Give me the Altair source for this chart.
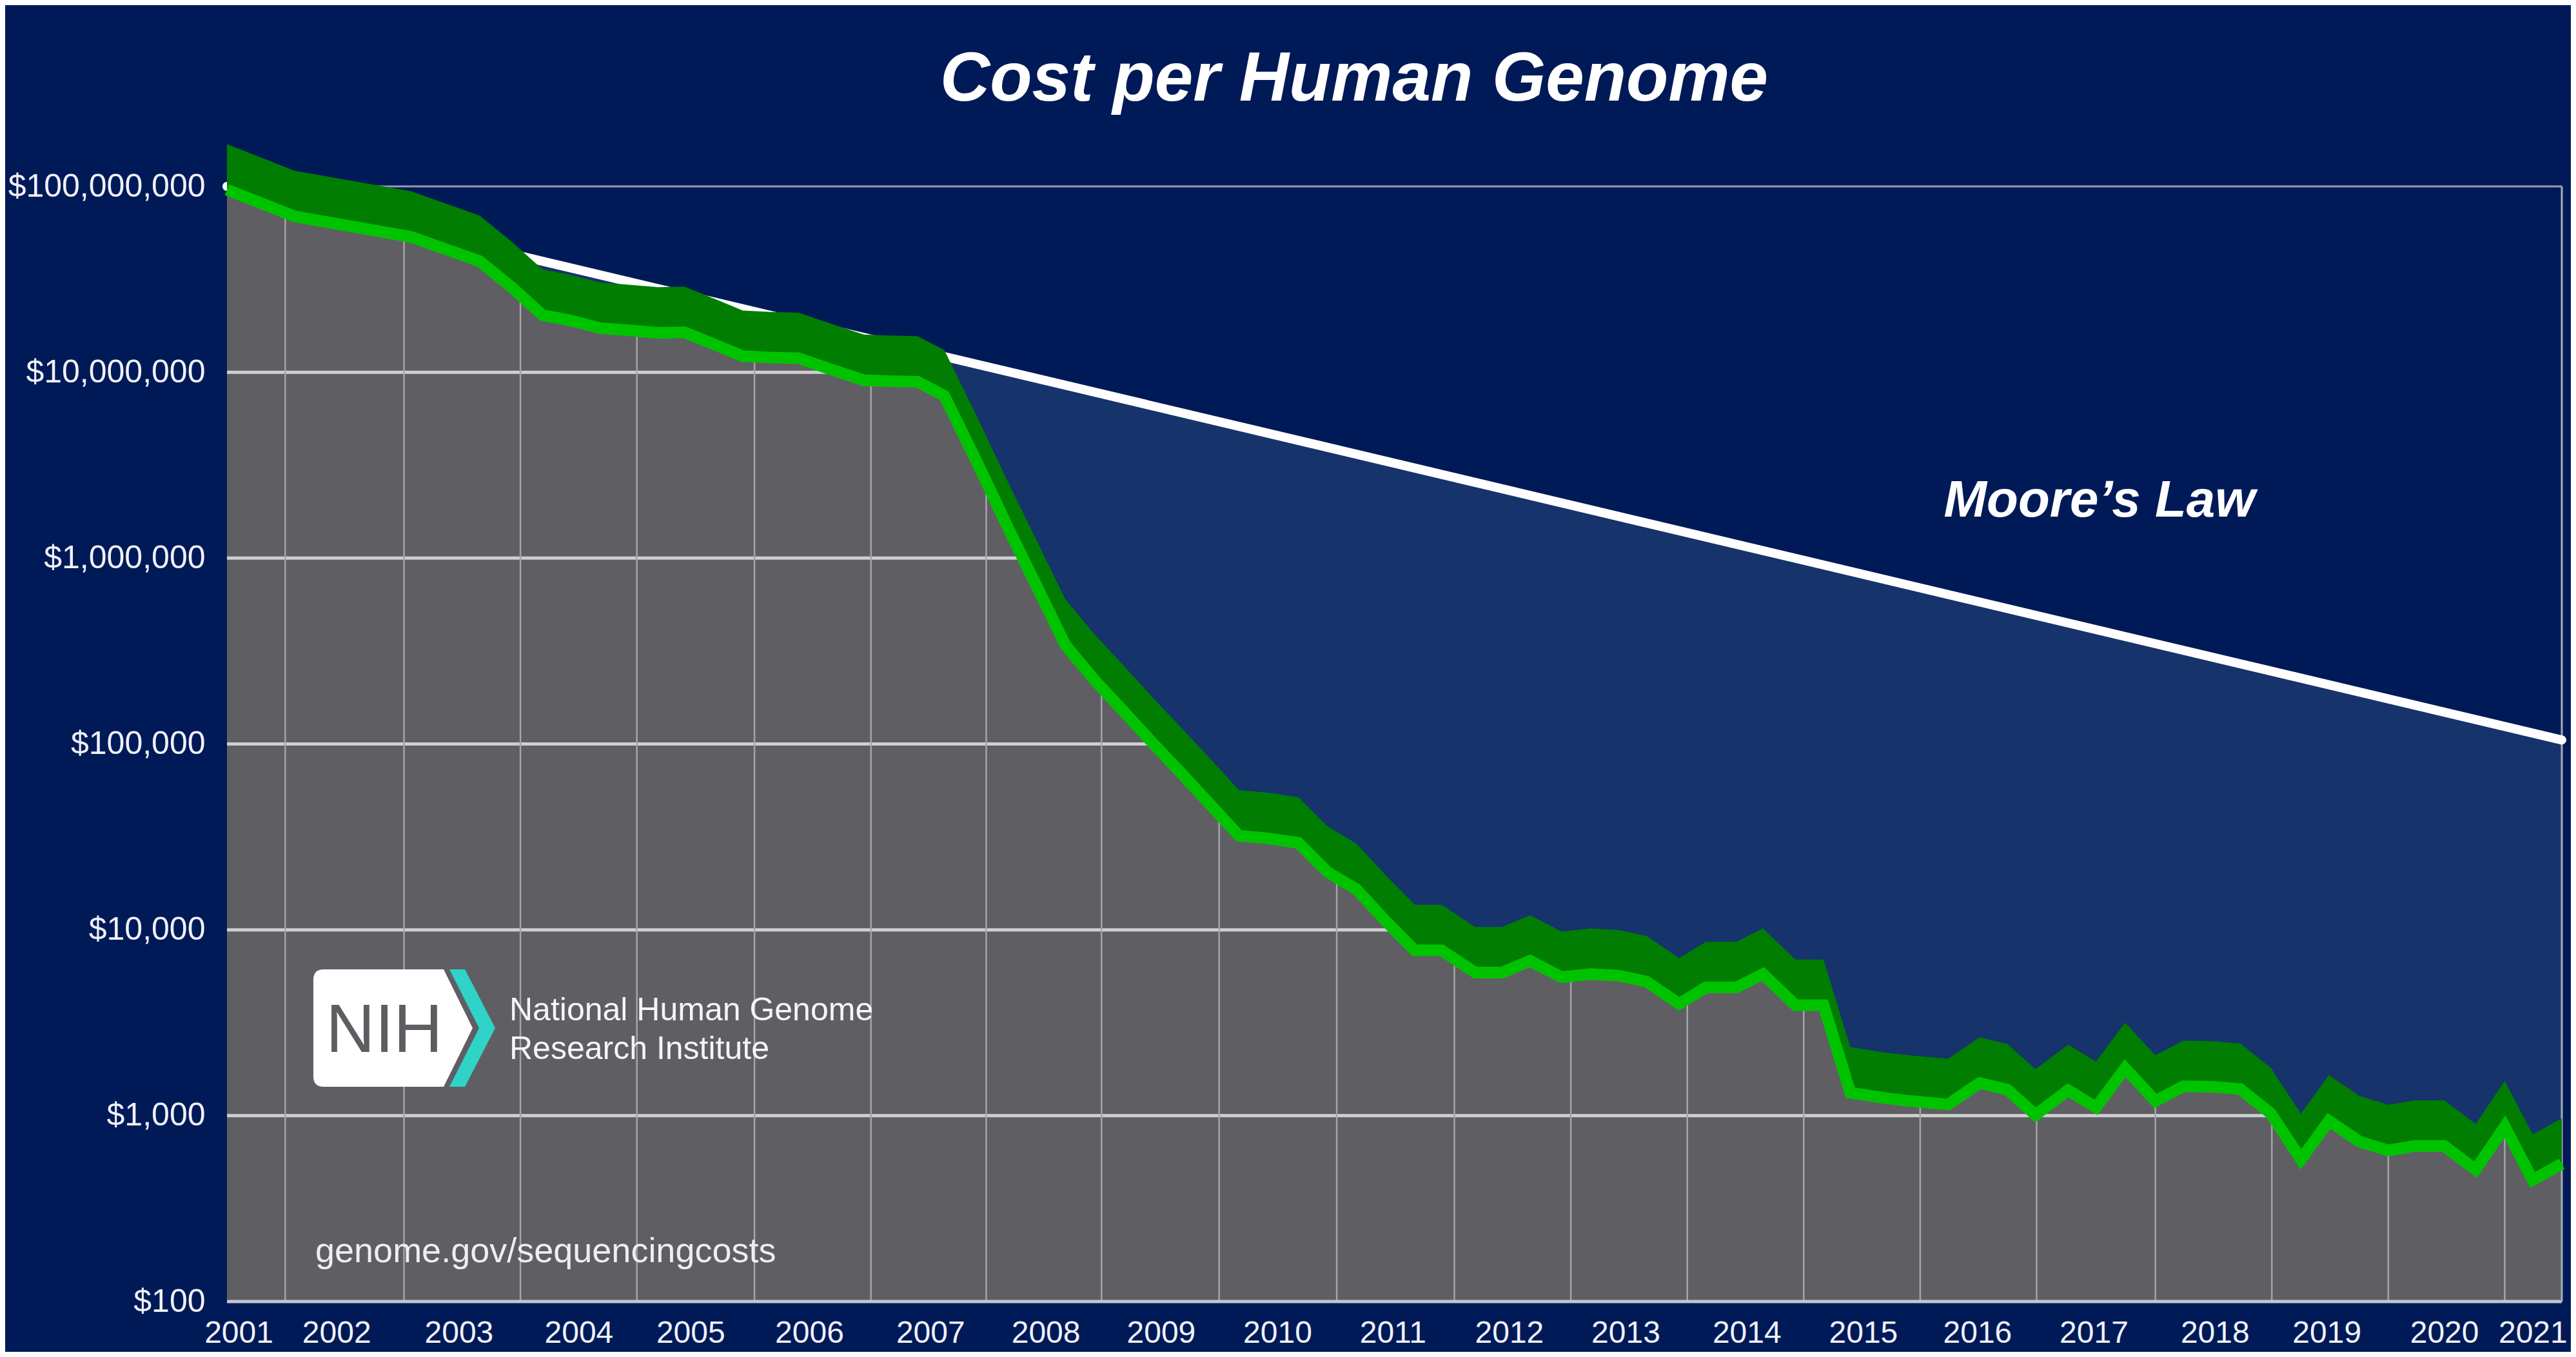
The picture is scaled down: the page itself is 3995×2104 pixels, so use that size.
import base64
import altair as alt
import pandas as pd

# ---------------- data ----------------
# x position of each data point on the chart's time axis (years)
t_pos = [2001.00, 2001.58, 2002.58, 2003.17, 2003.45, 2003.71, 2003.95, 2004.20,
         2004.45, 2004.70, 2004.93, 2005.20, 2005.43, 2005.68, 2005.91, 2006.20,
         2006.47, 2006.70, 2006.93, 2007.16, 2007.45, 2007.72, 2007.95, 2008.20,
         2008.45, 2008.70, 2008.95, 2009.20, 2009.45, 2009.69, 2009.95, 2010.20,
         2010.45, 2010.70, 2010.96, 2011.20, 2011.43, 2011.72, 2011.95, 2012.19,
         2012.46, 2012.71, 2012.95, 2013.19, 2013.47, 2013.70, 2013.96, 2014.19,
         2014.47, 2014.71, 2014.94, 2015.25, 2015.45, 2015.78, 2016.05, 2016.29,
         2016.53, 2016.81, 2017.05, 2017.30, 2017.56, 2017.80, 2018.05, 2018.29,
         2018.55, 2018.81, 2019.05, 2019.31, 2019.56, 2019.79, 2020.04, 2020.31,
         2020.56, 2020.80, 2021.05]
# cost per human genome (USD)
cost = [96e6, 69e6, 53.5e6, 39.6e6, 28.5e6, 20.3e6, 19.0e6, 17.3e6,
        16.8e6, 16.3e6, 16.4e6, 14.0e6, 12.2e6, 12.0e6, 11.9e6, 10.3e6,
        9.06e6, 8.95e6, 8.89e6, 7.48e6, 3.19e6, 1.40e6, 713e3, 340e3,
        221e3, 150e3, 101e3, 69e3, 46.8e3, 32.1e3, 31e3, 29.4e3,
        20.5e3, 16.5e3, 11e3, 7750, 7750, 5890, 5890, 6810,
        5570, 5780, 5670, 5270, 4000, 4900, 4900, 5780,
        3930, 3930, 1330, 1240, 1200, 1150, 1500, 1380,
        1010, 1370, 1110, 1800, 1200, 1440, 1430, 1390,
        1030, 582, 938, 727, 650, 687, 687, 513,
        873, 451, 551]
# Moore's law reference line (end points)
moore_t = [2001.0, 2021.05]
moore_cost = [1.0e8, 1.05e5]
# vertical grid lines and x tick label positions
grid_x = [2001.50, 2002.52, 2003.52, 2004.52, 2005.53, 2006.53, 2007.52, 2008.51,
          2009.52, 2010.53, 2011.54, 2012.54, 2013.54, 2014.54, 2015.54, 2016.54,
          2017.56, 2018.56, 2019.56, 2020.56]
x_label_pos = [2001.10, 2001.94, 2002.99, 2004.02, 2004.98, 2006.00, 2007.04,
               2008.03, 2009.02, 2010.02, 2011.01, 2012.01, 2013.01, 2014.05,
               2015.05, 2016.03, 2017.03, 2018.07, 2019.03, 2020.04, 2020.80]
y_ticks = [100, 1000, 10000, 100000, 1000000, 10000000, 100000000]
grid_y = [1000, 10000, 100000, 1000000, 10000000]
frame_top = [100000000]

# ---------------- styling ----------------
W, H = 3621, 1818
FONT = "Liberation Sans Narrow, Arial Narrow, Liberation Sans, Arial, sans-serif"
NAVY = "#001a57"
LIGHT_BLUE = "#16336b"
GRAY = "#5f5f63"
DARK_GREEN = "#017d01"
BRIGHT_GREEN = "#00c300"
LABEL = "#f0f1f7"

df = pd.DataFrame({"t": t_pos, "cost": cost})
moore = pd.DataFrame({"t": moore_t, "cost": moore_cost})
dummy = pd.DataFrame({"k": [0]})

xs = alt.Scale(domain=[2001.0, 2021.05], nice=False, zero=False)
ys = alt.Scale(type="log", domain=[100, 2.037e8], nice=False)

x_axis = alt.Axis(values=x_label_pos, labelExpr="'' + round(datum.value)",
                  labelFont=FONT, labelFontSize=48, labelColor=LABEL,
                  labelPadding=25, labelFlush=False, labelOverlap=False,
                  labelBound=False, labelLimit=0, domain=False, ticks=False,
                  grid=False, title=None)
y_axis = alt.Axis(values=y_ticks, format="$,.0f", labelFont=FONT, labelFontSize=50,
                  labelColor=LABEL, labelPadding=34, labelLimit=0, domain=False,
                  ticks=False, grid=False, title=None)


def X(field):
    return alt.X(field, scale=xs, axis=x_axis)


def Y(field):
    return alt.Y(field, scale=ys, axis=y_axis, stack=None)


gray = alt.Chart(df).mark_area(color=GRAY).encode(
    x=X("t:Q"), y=Y("cost:Q"), y2=alt.value(H))

hgrid = alt.Chart(pd.DataFrame({"v": grid_y})).mark_rule(
    color="#cfcfd2", strokeWidth=5).encode(y=Y("v:Q"))
vgrid = alt.Chart(pd.DataFrame({"g": grid_x})).mark_rule(
    color="#a4a4a9", strokeWidth=2.5).encode(x=X("g:Q"))

light_cover = alt.Chart(df).mark_area(color=LIGHT_BLUE).encode(
    x=X("t:Q"), y=Y("cost:Q"), y2=alt.value(0))
navy_cover = alt.Chart(moore).mark_area(color=NAVY).encode(
    x=X("t:Q"), y=Y("cost:Q"), y2=alt.value(0))

bottom = alt.Chart(dummy).mark_rule(color="#c3c6d6", strokeWidth=5).encode(
    x=alt.value(0), x2=alt.value(W), y=alt.value(H))
top_frame = alt.Chart(pd.DataFrame({"v": frame_top})).mark_rule(
    color="#9a9cab", strokeWidth=3).encode(y=Y("v:Q"))
right_frame = alt.Chart(pd.DataFrame({"v": frame_top})).mark_rule(
    color="#a9abb8", strokeWidth=3).encode(
    x=alt.value(W), y=Y("v:Q"), y2=alt.value(H))

moore_line = alt.Chart(moore).mark_line(color="white", strokeWidth=14,
                                        strokeCap="round").encode(x=X("t:Q"), y=Y("cost:Q"))

ribbon = alt.Chart(df).transform_calculate(top="datum.cost * 1.76").mark_area(
    color=DARK_GREEN).encode(x=X("t:Q"), y=Y("cost:Q"), y2=alt.Y2("top:Q"))
bright = alt.Chart(df).mark_line(color=BRIGHT_GREEN, strokeWidth=18,
                                 strokeJoin="miter").encode(x=X("t:Q"), y=Y("cost:Q"))

title = alt.Chart(dummy).mark_text(
    text="Cost per Human Genome", font=FONT, fontSize=107, fontWeight="bold",
    fontStyle="italic", color="white", align="center", baseline="alphabetic"
).encode(x=alt.value(1748), y=alt.value(-44))

moore_label = alt.Chart(dummy).mark_text(
    text="Moore\u2019s Law", font=FONT, fontSize=80, fontWeight="bold",
    fontStyle="italic", color="white", align="center", baseline="middle"
).encode(x=alt.value(2904), y=alt.value(577))

logo_svg = ('<svg xmlns="http://www.w3.org/2000/svg" width="290" height="185" '
            'viewBox="0 0 290 185">'
            '<path d="M17 1 H203 L248 92 L203 183 H17 Q1 183 1 167 V17 Q1 1 17 1 Z" fill="#ffffff"/>'
            '<path d="M212 1 H236 L283 92 L236 183 H212 L258 92 Z" fill="#2fd3c8"/>'
            '</svg>')
logo_uri = "data:image/svg+xml;base64," + base64.b64encode(logo_svg.encode()).decode()
logo = alt.Chart(dummy).mark_image(url=logo_uri, width=290, height=185,
                                   align="left", baseline="top").encode(
    x=alt.value(133), y=alt.value(1302))
nih = alt.Chart(dummy).mark_text(
    text="NIH", font=FONT, fontSize=105, color="#5d5d62", align="center",
    baseline="alphabetic").encode(x=alt.value(244), y=alt.value(1431))
institute = alt.Chart(dummy).mark_text(
    text=["National Human Genome", "Research Institute"], font=FONT, fontSize=50,
    lineHeight=60, color="#f5f5f5", align="left", baseline="alphabetic"
).encode(x=alt.value(438), y=alt.value(1382))
url_text = alt.Chart(dummy).mark_text(
    text="genome.gov/sequencingcosts", font=FONT, fontSize=54, color="#eeeeee",
    align="left", baseline="alphabetic").encode(x=alt.value(137), y=alt.value(1757))

chart = alt.layer(
    gray, hgrid, vgrid, light_cover, navy_cover, bottom, top_frame, right_frame,
    moore_line, ribbon, bright, moore_label, logo, nih, institute, url_text, title
).properties(
    width=W, height=H,
    padding={"left": 344, "top": 192, "right": 14, "bottom": 78},
    autosize=alt.AutoSizeParams(type="none"),
    background=NAVY,
).configure_view(strokeWidth=0)

chart.save("out.html", embed_options={"renderer": "svg", "actions": False})
